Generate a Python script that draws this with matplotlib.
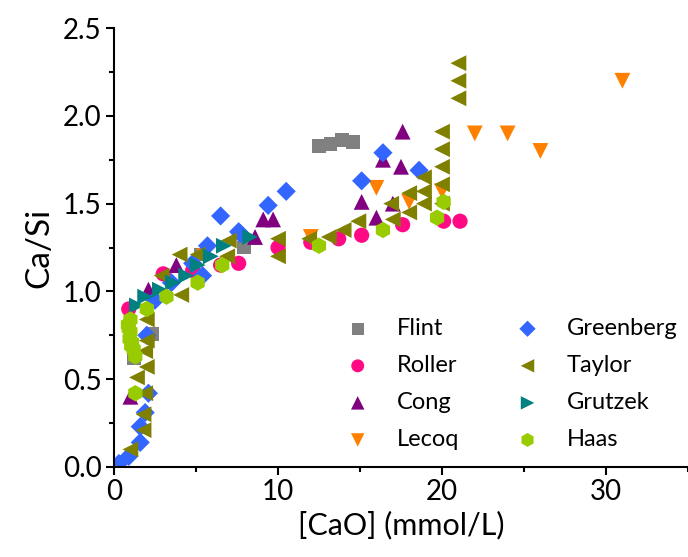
import matplotlib
matplotlib.use("Agg")
import matplotlib.pyplot as plt

# data
flint_x = [1.2, 2.3, 5.3, 7.9, 12.5, 13.2, 13.9, 14.6]
flint_y = [0.62, 0.76, 1.21, 1.25, 1.83, 1.84, 1.86, 1.85]

roller_x = [0.9, 3.0, 4.8, 6.5, 7.6, 10.0, 12.0, 13.7, 15.1, 17.6, 20.1, 21.1]
roller_y = [0.90, 1.10, 1.12, 1.15, 1.16, 1.25, 1.28, 1.30, 1.32, 1.38, 1.40, 1.40]

cong_x = [1.0, 2.1, 3.8, 8.6, 9.1, 9.7, 15.1, 16.0, 16.4, 17.0, 17.5, 17.6]
cong_y = [0.40, 1.01, 1.15, 1.31, 1.41, 1.41, 1.51, 1.42, 1.75, 1.50, 1.71, 1.91]

lecoq_x = [5.5, 12.0, 16.0, 18.0, 20.0, 22.0, 24.0, 26.0, 31.0]
lecoq_y = [1.20, 1.31, 1.59, 1.51, 1.57, 1.90, 1.90, 1.80, 2.20]

greenberg_x = [0.3, 0.9, 1.6, 1.6, 1.9, 2.1, 2.0, 2.5, 3.5, 4.8, 5.4, 5.7,
               6.5, 7.6, 7.7, 9.4, 10.5, 15.1, 16.4, 18.6]
greenberg_y = [0.02, 0.06, 0.14, 0.23, 0.31, 0.42, 0.75, 0.95, 1.05, 1.16, 1.09, 1.26,
               1.43, 1.34, 1.33, 1.49, 1.57, 1.63, 1.79, 1.69]

taylor_x = [1.0, 1.8, 1.8, 1.9, 1.4, 2.0, 1.9, 2.0, 2.0, 2.9, 4.0, 4.1, 5.1, 6.9,
            7.0, 10.0, 10.0, 11.9, 13.1, 14.0, 14.9, 16.9, 17.0, 18.0, 18.0, 18.9,
            18.9, 18.9, 20.0, 20.0, 20.0, 20.0, 20.0, 21.0, 21.0, 21.0]
taylor_y = [0.10, 0.21, 0.30, 0.42, 0.51, 0.57, 0.66, 0.72, 0.84, 1.09, 1.21, 0.98, 1.21, 1.20,
            1.29, 1.20, 1.30, 1.30, 1.31, 1.35, 1.40, 1.50, 1.41, 1.45, 1.56, 1.50,
            1.57, 1.65, 1.50, 1.61, 1.71, 1.81, 1.91, 2.10, 2.20, 2.30]

grutzek_x = [1.4, 1.9, 2.8, 3.6, 4.4, 5.1, 5.9, 6.7, 8.3]
grutzek_y = [0.92, 0.97, 1.01, 1.05, 1.09, 1.15, 1.20, 1.26, 1.31]

haas_x = [0.85, 0.9, 0.95, 1.0, 1.0, 1.05, 1.1, 1.2, 1.3, 1.3, 2.0, 3.2, 5.1, 6.6,
          12.5, 16.4, 19.7, 20.1]
haas_y = [0.81, 0.79, 0.73, 0.84, 0.77, 0.69, 0.71, 0.67, 0.63, 0.42, 0.90, 0.97, 1.05, 1.15,
          1.26, 1.35, 1.42, 1.51]

series = [
    ("Flint", flint_x, flint_y, "s", "#808080"),
    ("Roller", roller_x, roller_y, "o", "#FF0A84"),
    ("Cong", cong_x, cong_y, "^", "#800080"),
    ("Lecoq", lecoq_x, lecoq_y, "v", "#FF8000"),
    ("Greenberg", greenberg_x, greenberg_y, "D", "#3366FF"),
    ("Taylor", taylor_x, taylor_y, "<", "#808000"),
    ("Grutzek", grutzek_x, grutzek_y, ">", "#008080"),
    ("Haas", haas_x, haas_y, "h", "#99CC00"),
]

plt.rcParams['font.family'] = ['Lato', 'DejaVu Sans']

fig = plt.figure(figsize=(6.88, 5.57), dpi=100)
ax = fig.add_axes([0.1657, 0.1616, 0.8343, 0.788])

sizes = {"s": 100, "o": 120, "^": 130, "v": 130, "D": 95, "<": 130, ">": 130, "h": 140}
for name, xs, ys, m, c in series:
    ax.scatter(xs, ys, marker=m, s=sizes[m], color=c, edgecolors="none", label=name)

ax.set_xlim(0, 35)
ax.set_ylim(0, 2.5)
ax.set_xticks([0, 10, 20, 30])
ax.set_xticks([5, 15, 25, 35], minor=True)
ax.set_yticks([0.0, 0.5, 1.0, 1.5, 2.0, 2.5])
ax.set_yticks([0.25, 0.75, 1.25, 1.75, 2.25], minor=True)
ax.yaxis.set_major_formatter(matplotlib.ticker.FormatStrFormatter('%.1f'))

for side in ["top", "right"]:
    ax.spines[side].set_visible(False)
for side in ["left", "bottom"]:
    ax.spines[side].set_linewidth(1.5)
ax.tick_params(which="major", length=6, width=1.5, labelsize=20, direction="out", pad=3)
ax.tick_params(which="minor", length=3.5, width=1.5, direction="out")

ax.set_xlabel("[CaO] (mmol/L)", fontsize=22, labelpad=4)
ax.set_ylabel("Ca/Si", fontsize=24, labelpad=6)

ax.legend(ncol=2, frameon=False, fontsize=17, loc="lower left",
          bbox_to_anchor=(0.367, -0.01), handlelength=1.0, handletextpad=1.15,
          columnspacing=2.4, labelspacing=0.68, markerscale=0.85)

fig.savefig("out.png", dpi=100)
